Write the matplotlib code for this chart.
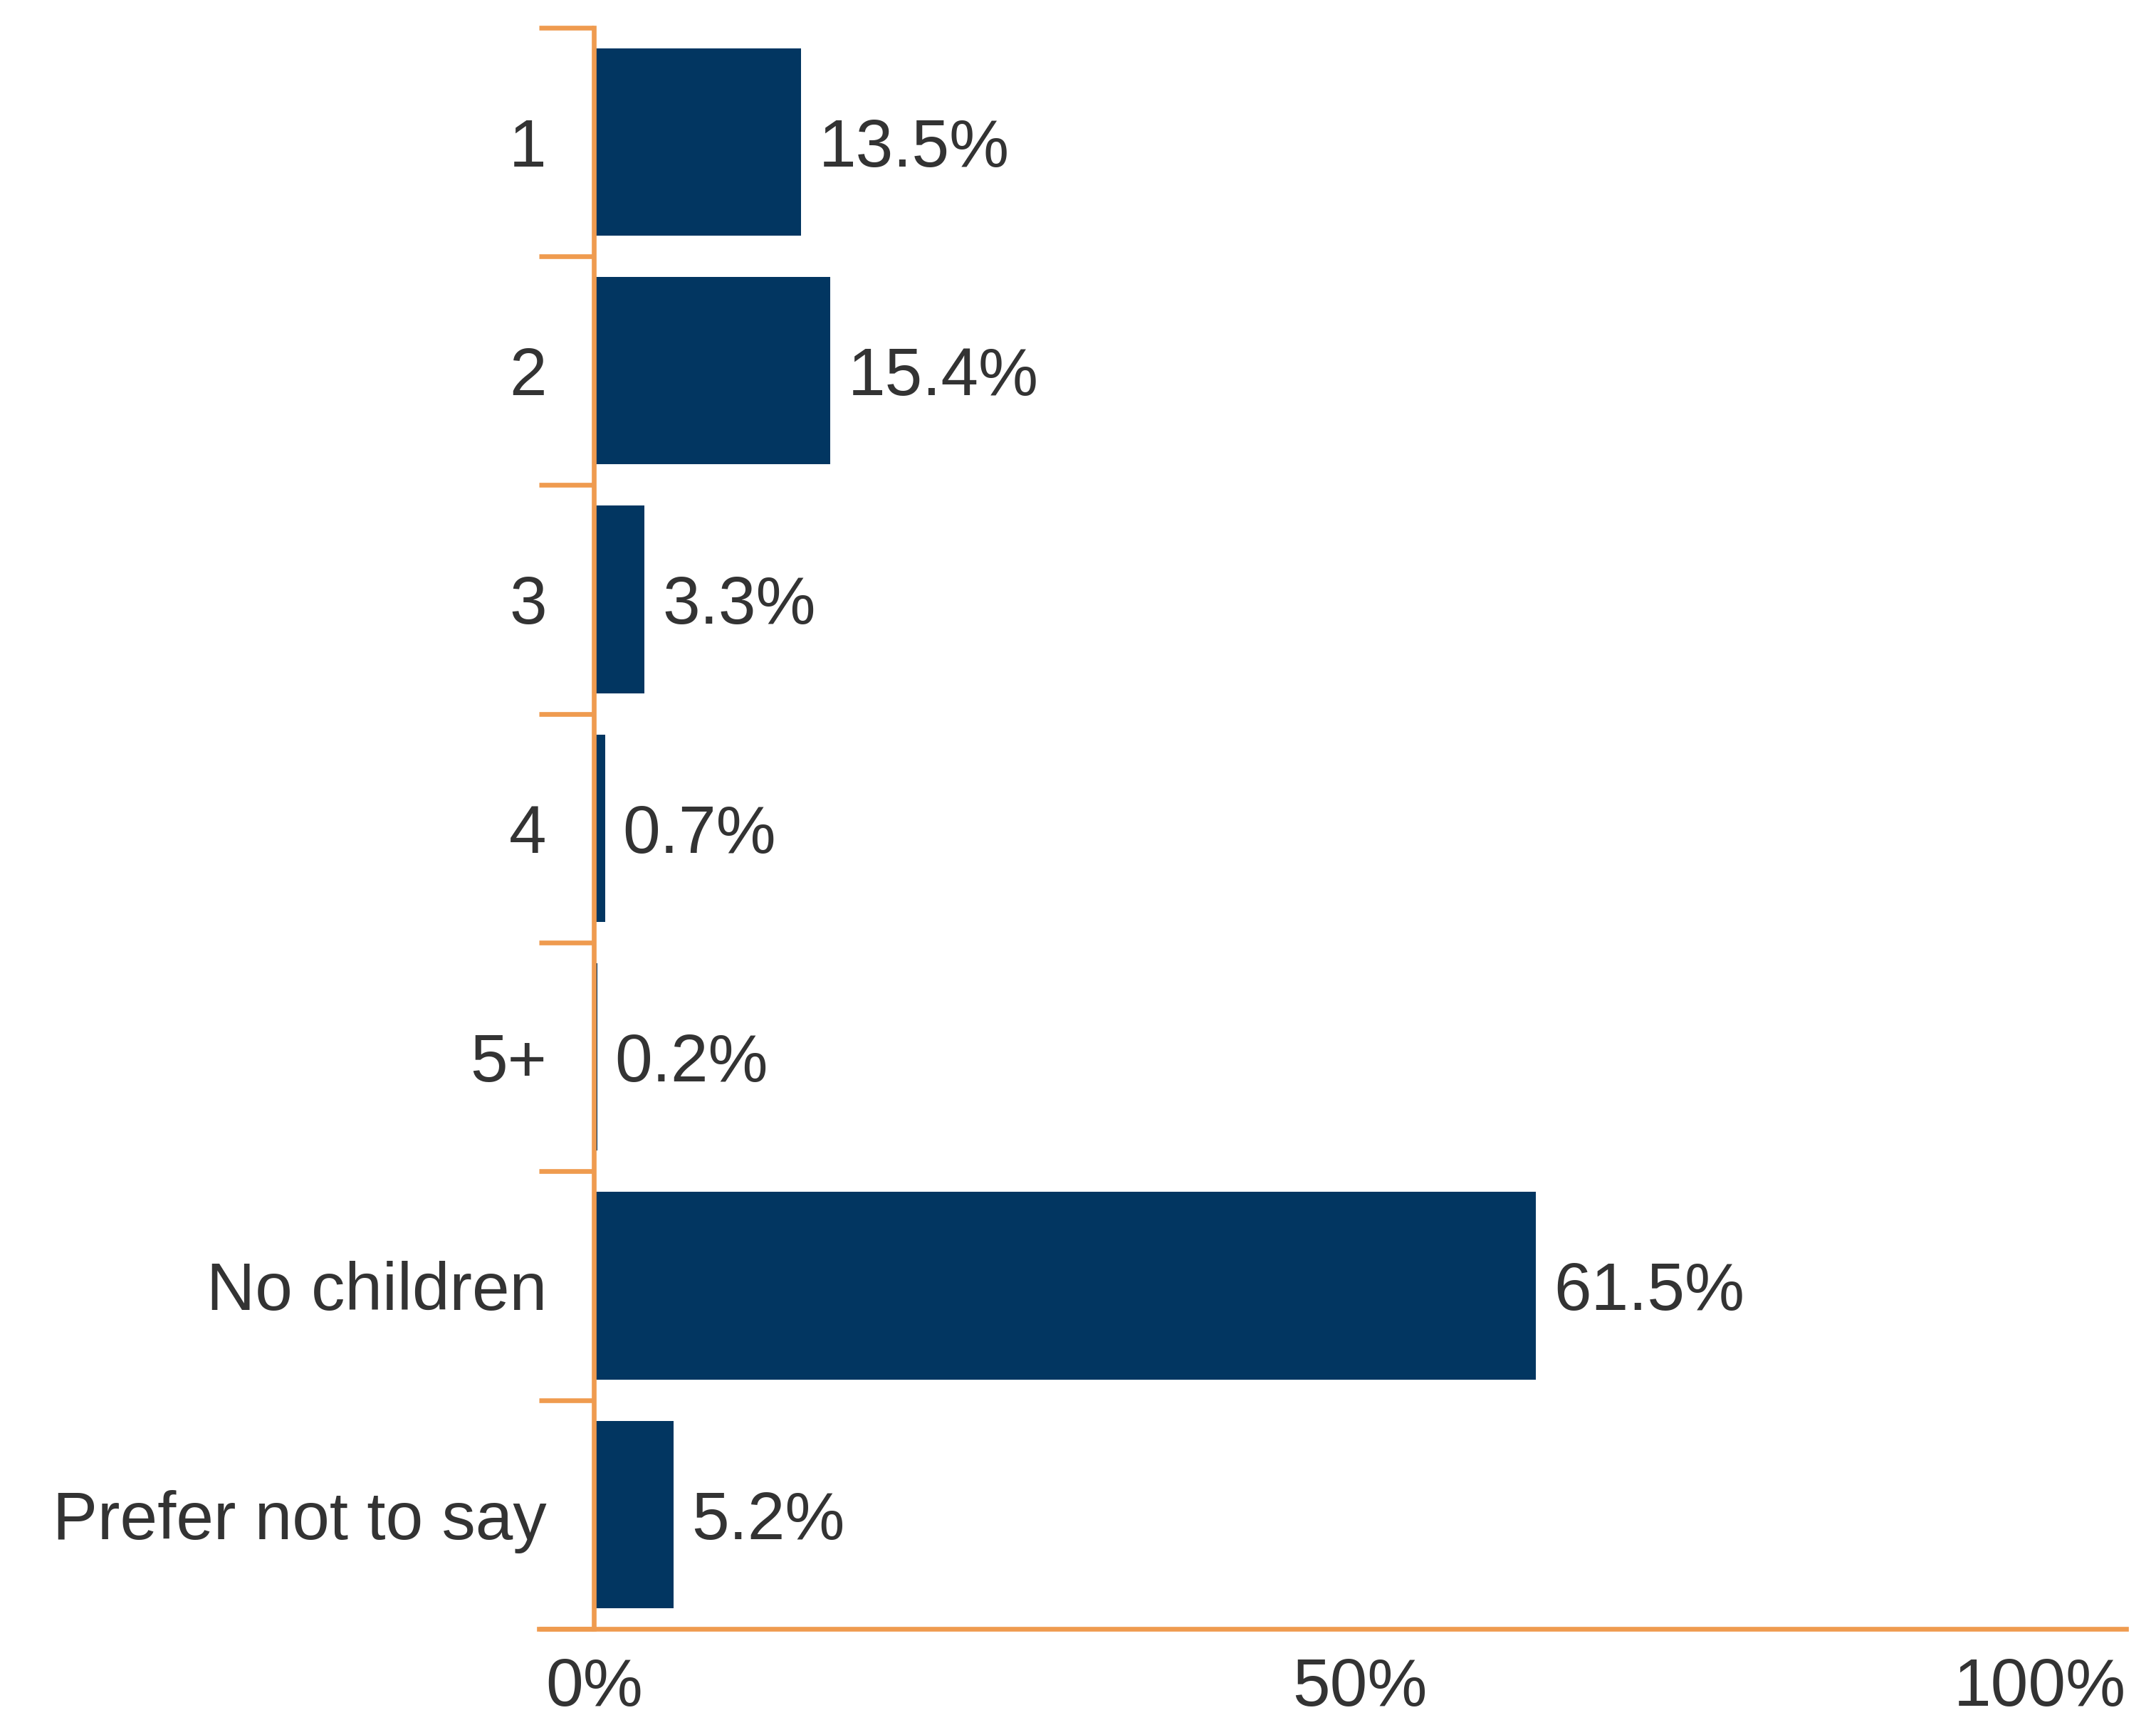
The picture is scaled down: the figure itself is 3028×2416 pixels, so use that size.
import matplotlib.pyplot as plt
from matplotlib.ticker import FixedLocator

FONT = "Liberation Sans"
C_BAR = "#023661"
C_AXIS = "#EF9B4F"
C_TEXT = "#333333"

categories = ["1", "2", "3", "4", "5+", "No children", "Prefer not to say"]
shares = [13.5, 15.4, 3.3, 0.7, 0.2, 61.5, 5.2]
x_ticks = [0, 50, 100]
x_labels = ["0%", "50%", "100%"]

plt.rcParams["font.family"] = [FONT, "DejaVu Sans"]

fig = plt.figure(figsize=(15.14, 12.08), dpi=200, facecolor="white")
ax = fig.add_axes([0.25, 0.053, 0.736, 0.931])

pos = list(range(len(categories)))
ax.barh(pos, shares, height=0.82, color=C_BAR, zorder=2)

for y, v in zip(pos, shares):
    ax.annotate(f"{v:.1f}%", xy=(v, y), xytext=(9, 0), textcoords="offset points",
                ha="left", va="center_baseline", fontsize=34, color=C_TEXT)

ax.set_xlim(-3.6, 100)
ax.set_ylim(len(categories) - 0.5, -0.5)

# spines: left one sits at x = 0, bottom one spans the full width
for s in ("top", "right"):
    ax.spines[s].set_visible(False)
ax.spines["left"].set_position(("data", 0))
for s in ("left", "bottom"):
    ax.spines[s].set_color(C_AXIS)
    ax.spines[s].set_linewidth(2.4)

# category labels in the middle, orange ticks at the boundaries
ax.set_yticks(pos)
ax.set_yticklabels(categories)
for lab in ax.get_yticklabels():
    lab.set_verticalalignment("center_baseline")
ax.yaxis.set_minor_locator(FixedLocator([p - 0.5 for p in pos] + [len(pos) - 0.5]))
ax.tick_params(axis="y", which="major", length=0, pad=24, labelsize=34, labelcolor=C_TEXT)
ax.tick_params(axis="y", which="minor", length=27.7, width=2.4, color=C_AXIS, direction="out")

ax.set_xticks(x_ticks)
ax.set_xticklabels(x_labels)
ax.tick_params(axis="x", length=0, pad=14, labelsize=34, labelcolor=C_TEXT)
ax.get_xticklabels()[-1].set_horizontalalignment("right")

plt.savefig("out.png", dpi=200, facecolor="white")
